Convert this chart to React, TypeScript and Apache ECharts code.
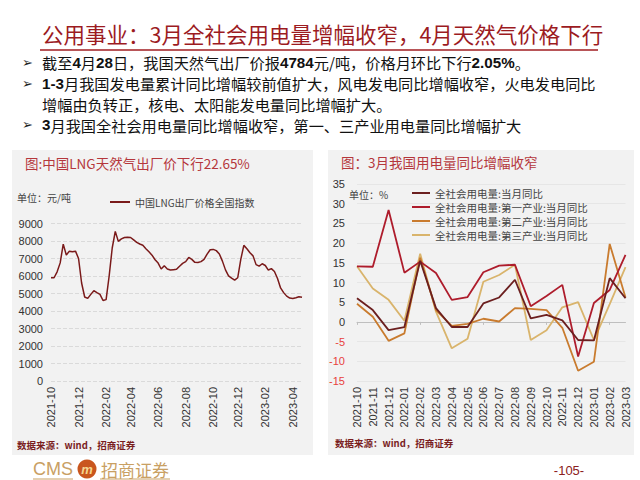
import React, { useEffect, useRef } from 'react';
import * as echarts from 'echarts';

// ---------- Data ----------
const SLIDE_TITLE = '公用事业：3月全社会用电量增幅收窄，4月天然气价格下行';

const LNG_NAME = '中国LNG出厂价格全国指数';
const LNG_START = Date.UTC(2021, 9, 1); // weekly samples from 2021-10-01 to 2023-04-28
const LNG_VALUES = [
  5900, 5900, 6240, 6750, 7820, 7200, 7420, 7380, 7420, 7000,
  5600, 4800, 4720, 4950, 5160, 5050, 4950, 4600, 4650, 6000,
  7600, 8550, 7980, 8120, 8200, 8210, 8200, 8060, 7920, 7830,
  7760, 7560, 7380, 7190, 6930, 6740, 6400, 6580, 6400, 6340,
  6360, 6380, 6560, 6720, 6820, 7060, 6950, 6780, 6770, 6820,
  6950, 7250, 7500, 7520, 7450, 7260, 6850, 6350, 6010, 5880,
  5760, 5900, 6950, 7750, 7560, 7330, 7150, 6650, 6560, 6700,
  6600, 6340, 6420, 6260, 5860, 5320, 5050, 4850, 4740, 4720,
  4760, 4810, 4784,
];
const LNG_TICKS = ['2021-10', '2021-12', '2022-02', '2022-04', '2022-06', '2022-08', '2022-10', '2022-12', '2023-02', '2023-04'];

const POWER_MONTHS = [
  '2021-10', '2021-11', '2021-12', '2022-01', '2022-02', '2022-03', '2022-04', '2022-05', '2022-06',
  '2022-07', '2022-08', '2022-09', '2022-10', '2022-11', '2022-12', '2023-01', '2023-02', '2023-03',
];
const S_TOTAL = '全社会用电量:当月同比';
const S_PRIMARY = '全社会用电量:第一产业:当月同比';
const S_SECONDARY = '全社会用电量:第二产业:当月同比';
const S_TERTIARY = '全社会用电量:第三产业:当月同比';
const TOTAL = [6.0, 3.0, -2.1, -1.3, 15.5, 3.5, -1.3, -1.3, 4.7, 6.2, 10.7, 0.9, 1.8, 0.4, -4.6, -4.7, 11.1, 6.0];
const PRIMARY = [14.1, 14.0, 28.4, 12.5, 15.3, 12.4, 5.6, 6.3, 12.6, 14.3, 14.5, 4.0, 6.6, 9.4, -8.8, 4.8, 8.1, 17.0];
const SECONDARY = [4.6, 1.3, -4.8, -2.9, 16.3, 3.0, -1.0, -0.5, 0.8, 0.1, 3.5, 3.3, 3.0, -1.5, -12.4, -10.1, 19.8, 6.2];
const TERTIARY = [14.1, 8.5, 5.6, 0.3, 17.3, 2.6, -6.7, -4.3, 10.2, 11.9, 14.5, -4.6, -2.1, 3.7, 5.0, -4.6, 4.5, 13.9];

const COLORS = {
  lng: '#7A1A1A',
  total: '#6B1F1F',
  primary: '#AE1C2C',
  secondary: '#C97B2E',
  tertiary: '#D9B46C',
};

const CJK = 'Noto Sans CJK SC';
const LATIN = 'Liberation Sans';

const LNG_DATES = LNG_VALUES.map((_, i) => new Date(LNG_START + i * 7 * 86400000).toISOString().slice(0, 10));
const LNG_LABEL_IDX = new Set(LNG_TICKS.map((t) => LNG_DATES.findIndex((d) => d.startsWith(t))));

function buildOption(): any {
  const FS = 15.2;
  const LH = 16;
  const bulletStyle = (y: number, text: string) => ({
    type: 'text',
    x: 42,
    y,
    style: {
      text,
      verticalAlign: 'middle',
      fontFamily: CJK,
      fontSize: FS,
      lineHeight: LH,
      fill: '#111',
      rich: {
        n: { fontFamily: CJK, fontSize: FS, lineHeight: LH, fill: '#111' },
        b: { fontFamily: LATIN, fontSize: FS, lineHeight: LH, fontWeight: 'bold', fill: '#111' },
      },
    },
  });
  const arrow = (y: number) => ({
    type: 'text',
    x: 22,
    y,
    style: { text: '➢', verticalAlign: 'middle', fontFamily: 'DejaVu Sans', fontSize: 13, fill: '#222' },
  });
  const small = (x: number, y: number, text: string, extra: any = {}) => ({
    type: 'text',
    x,
    y,
    style: { text, verticalAlign: 'middle', fontFamily: CJK, fontSize: 10, fill: '#444', ...extra },
  });

  return {
    animation: false,
    backgroundColor: '#ffffff',
    textStyle: { fontFamily: CJK },
    graphic: [
      { type: 'rect', z: -10, shape: { x: 12, y: 150, width: 301, height: 305 }, style: { fill: '#F2F2F2' } },
      { type: 'rect', z: -10, shape: { x: 328, y: 150, width: 306, height: 305 }, style: { fill: '#F2F2F2' } },
      {
        type: 'text',
        x: 42,
        y: 33,
        style: { text: SLIDE_TITLE, verticalAlign: 'middle', fontFamily: CJK, fontSize: 21.5, fill: '#9C1B1F' },
      },
      { type: 'line', shape: { x1: 40, y1: 50, x2: 598, y2: 50 }, style: { stroke: '#A01C20', lineWidth: 1.5 } },
      arrow(62),
      bulletStyle(62, '{n|截至}{b|4}{n|月}{b|28}{n|日，我国天然气出厂价报}{b|4784}{n|元/吨，价格月环比下行}{b|2.05%}{n|。}'),
      arrow(83),
      bulletStyle(83, '{b|1-3}{n|月我国发电量累计同比增幅较前值扩大，风电发电同比增幅收窄，火电发电同比}'),
      bulletStyle(103.5, '{n|增幅由负转正，核电、太阳能发电量同比增幅扩大。}'),
      arrow(124.5),
      bulletStyle(124.5, '{b|3}{n|月我国全社会用电量同比增幅收窄，第一、三产业用电量同比增幅扩大}'),
      // panel titles
      {
        type: 'text', x: 25, y: 163,
        style: { text: '图:中国LNG天然气出厂价下行22.65%', verticalAlign: 'middle', fontFamily: CJK, fontSize: 13.5, fill: '#B5373C' },
      },
      {
        type: 'text', x: 341, y: 162,
        style: { text: '图：3月我国用电量同比增幅收窄', verticalAlign: 'middle', fontFamily: CJK, fontSize: 13.5, fill: '#B5373C' },
      },
      small(17, 197, '单位：元/吨'),
      small(349, 194, '单位：%'),
      small(17, 445, '数据来源：wind，招商证券', { fontSize: 9.5, fontWeight: 'bold', fill: '#7A1E1E' }),
      small(335, 443, '数据来源：wind，招商证券', { fontSize: 9.5, fontWeight: 'bold', fill: '#7A1E1E' }),
      // footer
      {
        type: 'text', x: 33, y: 469,
        style: { text: 'CMS', verticalAlign: 'middle', fontFamily: LATIN, fontSize: 18, fill: '#C9A063' },
      },
      { type: 'circle', shape: { cx: 87, cy: 469, r: 9.5 }, style: { fill: '#C9561E' } },
      {
        type: 'text', x: 87, y: 469,
        style: { text: 'm', align: 'center', verticalAlign: 'middle', fontFamily: LATIN, fontSize: 13, fontWeight: 'bold', fontStyle: 'italic', fill: '#F5D58E' },
      },
      {
        type: 'text', x: 101, y: 469,
        style: { text: '招商证券', verticalAlign: 'middle', fontFamily: CJK, fontSize: 17, fill: '#C9A063' },
      },
      { type: 'line', shape: { x1: 33, y1: 479, x2: 73, y2: 479 }, style: { stroke: '#C9A063', lineWidth: 1 } },
      { type: 'line', shape: { x1: 100, y1: 479, x2: 170, y2: 479 }, style: { stroke: '#C9A063', lineWidth: 1 } },
      {
        type: 'text', x: 569, y: 470,
        style: { text: '-105-', align: 'center', verticalAlign: 'middle', fontFamily: LATIN, fontSize: 13, fill: '#8B2020' },
      },
    ],
    legend: [
      {
        data: [LNG_NAME],
        left: 105,
        top: 190,
        icon: 'rect',
        itemWidth: 20,
        itemHeight: 2,
        textStyle: { fontFamily: CJK, fontSize: 10, color: '#444', lineHeight: 14 },
      },
      {
        data: [S_TOTAL, S_PRIMARY, S_SECONDARY, S_TERTIARY],
        orient: 'vertical',
        left: 407,
        top: 181,
        itemGap: 0,
        icon: 'rect',
        itemWidth: 18,
        itemHeight: 2,
        textStyle: { fontFamily: CJK, fontSize: 10.5, color: '#444', lineHeight: 14 },
      },
    ],
    grid: [
      { left: 51, right: 338, top: 223.5, bottom: 99 },
      { left: 357, right: 14.5, top: 184, bottom: 99 },
    ],
    xAxis: [
      {
        gridIndex: 0,
        type: 'category',
        data: LNG_DATES,
        boundaryGap: false,
        axisLine: { show: false },
        axisTick: { show: false },
        splitLine: { show: false },
        axisLabel: {
          interval: (index: number) => LNG_LABEL_IDX.has(index),
          formatter: (v: string) => v.slice(0, 7),
          rotate: 90,
          fontSize: 11,
          fontFamily: LATIN,
          color: '#333',
          margin: 6,
        },
      },
      {
        gridIndex: 1,
        type: 'category',
        data: POWER_MONTHS,
        boundaryGap: false,
        position: 'bottom',
        axisLine: { show: false, onZero: false },
        axisTick: { show: false },
        splitLine: { show: false },
        axisLabel: { interval: 0, rotate: 90, fontSize: 11, fontFamily: LATIN, color: '#333', margin: 6 },
      },
      {
        gridIndex: 1,
        type: 'category',
        data: POWER_MONTHS,
        boundaryGap: false,
        position: 'bottom',
        axisLine: { show: true, onZero: true, lineStyle: { color: '#BFBFBF', width: 1 } },
        axisTick: { show: true, length: 3, lineStyle: { color: '#BFBFBF' } },
        splitLine: { show: false },
        axisLabel: { show: false },
      },
    ],
    yAxis: [
      {
        gridIndex: 0,
        type: 'value',
        min: 0,
        max: 9000,
        interval: 1000,
        axisLine: { show: false },
        axisTick: { show: false },
        axisLabel: { fontSize: 11, fontFamily: LATIN, color: '#333', margin: 8, formatter: (v: number) => String(v) },
        splitLine: { lineStyle: { type: 'dashed', color: '#DADADA' } },
      },
      {
        gridIndex: 1,
        type: 'value',
        min: -15,
        max: 35,
        interval: 5,
        axisLine: { show: false },
        axisTick: { show: false },
        axisLabel: {
          fontSize: 11,
          fontFamily: LATIN,
          margin: 12,
          color: (v: any) => (Number(v) < 0 ? '#E8413C' : '#333'),
        },
        splitLine: { lineStyle: { color: '#E6E6E6' } },
      },
    ],
    series: [
      {
        name: LNG_NAME,
        type: 'line',
        xAxisIndex: 0,
        yAxisIndex: 0,
        data: LNG_VALUES,
        symbol: 'none',
        lineStyle: { color: COLORS.lng, width: 1.5 },
        itemStyle: { color: COLORS.lng },
      },
      {
        name: S_TOTAL, type: 'line', xAxisIndex: 1, yAxisIndex: 1, data: TOTAL, symbol: 'none', z: 5,
        lineStyle: { color: COLORS.total, width: 1.8 }, itemStyle: { color: COLORS.total },
      },
      {
        name: S_PRIMARY, type: 'line', xAxisIndex: 1, yAxisIndex: 1, data: PRIMARY, symbol: 'none', z: 4,
        lineStyle: { color: COLORS.primary, width: 1.8 }, itemStyle: { color: COLORS.primary },
      },
      {
        name: S_SECONDARY, type: 'line', xAxisIndex: 1, yAxisIndex: 1, data: SECONDARY, symbol: 'none', z: 3,
        lineStyle: { color: COLORS.secondary, width: 1.8 }, itemStyle: { color: COLORS.secondary },
      },
      {
        name: S_TERTIARY, type: 'line', xAxisIndex: 1, yAxisIndex: 1, data: TERTIARY, symbol: 'none', z: 2,
        lineStyle: { color: COLORS.tertiary, width: 1.8 }, itemStyle: { color: COLORS.tertiary },
      },
    ],
  };
}

export default function App() {
  const ref = useRef<HTMLDivElement>(null);
  useEffect(() => {
    if (!ref.current) return;
    const chart = echarts.init(ref.current, null, { renderer: 'svg' });
    chart.setOption(buildOption());
    return () => chart.dispose();
  }, []);
  return (
    <div
      ref={ref}
      style={{ position: 'absolute', left: 0, top: 0, width: 640, height: 480, background: '#ffffff' }}
    />
  );
}
